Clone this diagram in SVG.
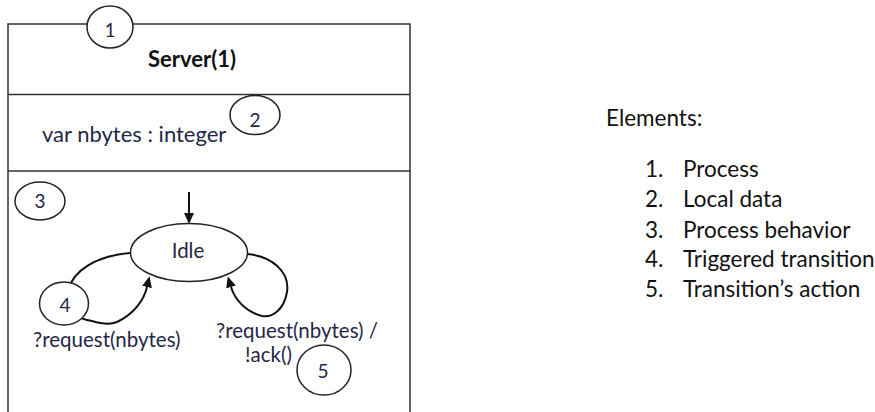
<svg xmlns="http://www.w3.org/2000/svg" width="875" height="412" viewBox="0 0 875 412">
<style>
.frame{fill:none;stroke:#333;stroke-width:1.5}
.tag{fill:#fff;stroke:#222;stroke-width:1.5}
.edge{fill:none;stroke:#111;stroke-width:2}
.state{fill:#fff;stroke:#222;stroke-width:1.5}
.t{font-family:Lato,"Open Sans","Liberation Sans",sans-serif;font-size:20.5px;fill:#1f2847}
.v{font-size:22px}
.b{font-weight:bold;fill:#111;font-size:22px}
.n{font-family:Lato,"Open Sans","Liberation Sans",sans-serif;font-size:19px;fill:#1f2847;text-anchor:middle}
.lg{font-family:Lato,"Open Sans","Liberation Sans",sans-serif;font-size:22.5px;fill:#111}
</style>
<defs>
<marker id="ah" markerUnits="userSpaceOnUse" markerWidth="12" markerHeight="10" refX="0" refY="5" orient="auto">
<path d="M0,0 L11,5 L0,10 z" fill="#111"/>
</marker>
</defs>
<rect width="875" height="412" fill="#fff"/>
<g id="process">
<path class="frame" d="M8,420 V24 H410 V420"/>
<line class="frame" x1="8" y1="94.5" x2="410" y2="94.5"/>
<line class="frame" x1="8" y1="171" x2="410" y2="171"/>
<text class="t b" x="192" y="67" text-anchor="middle">Server(1)</text>
<text class="t v" x="42" y="142">var nbytes : integer</text>
</g>
<g id="connectors">
<line class="edge" x1="189" y1="192" x2="189" y2="213" marker-end="url(#ah)"/>
<path class="edge" d="M130,253 C96,256 74,270 68,290 C63,307 76,319 92,321 C102,324 110,325 117,322 C134,314 144,300 147,287" marker-end="url(#ah)"/>
<path class="edge" d="M247,254 C272,256 290,272 287,292 C284,310 272,318 262,316 C246,312 235,300 231,287" marker-end="url(#ah)"/>
</g>
<g id="idle">
<ellipse class="state" cx="189" cy="252.5" rx="58.5" ry="29"/>
<text class="t" x="188" y="258" text-anchor="middle">Idle</text>
</g>
<g id="labels">
<text class="t" x="33" y="347">?request(nbytes)</text>
<text class="t" x="216" y="338">?request(nbytes) /</text>
<text class="t" x="245" y="362">!ack()</text>
</g>
<g id="tag1"><ellipse class="tag" cx="110" cy="27" rx="23" ry="21"/><text class="n" x="110" y="37">1</text></g>
<g id="tag2"><ellipse class="tag" cx="255" cy="115" rx="25" ry="19.5"/><text class="n" x="255" y="127">2</text></g>
<g id="tag3"><ellipse class="tag" cx="40" cy="201" rx="25" ry="19"/><text class="n" x="40" y="208">3</text></g>
<g id="tag4"><ellipse class="tag" cx="64" cy="303.5" rx="24.5" ry="21.5"/><text class="n" x="65" y="312">4</text></g>
<g id="tag5"><ellipse class="tag" cx="324" cy="370" rx="27" ry="25"/><text class="n" x="323" y="378">5</text></g>
<g id="legend">
<text class="lg" x="606" y="126">Elements:</text>
<text class="lg" x="645" y="177">1.</text><text class="lg" x="683" y="177">Process</text>
<text class="lg" x="645" y="207">2.</text><text class="lg" x="683" y="207">Local data</text>
<text class="lg" x="645" y="238">3.</text><text class="lg" x="683" y="238">Process behavior</text>
<text class="lg" x="645" y="267">4.</text><text class="lg" x="683" y="267">Triggered transition</text>
<text class="lg" x="645" y="297">5.</text><text class="lg" x="683" y="297">Transition’s action</text>
</g>
</svg>
